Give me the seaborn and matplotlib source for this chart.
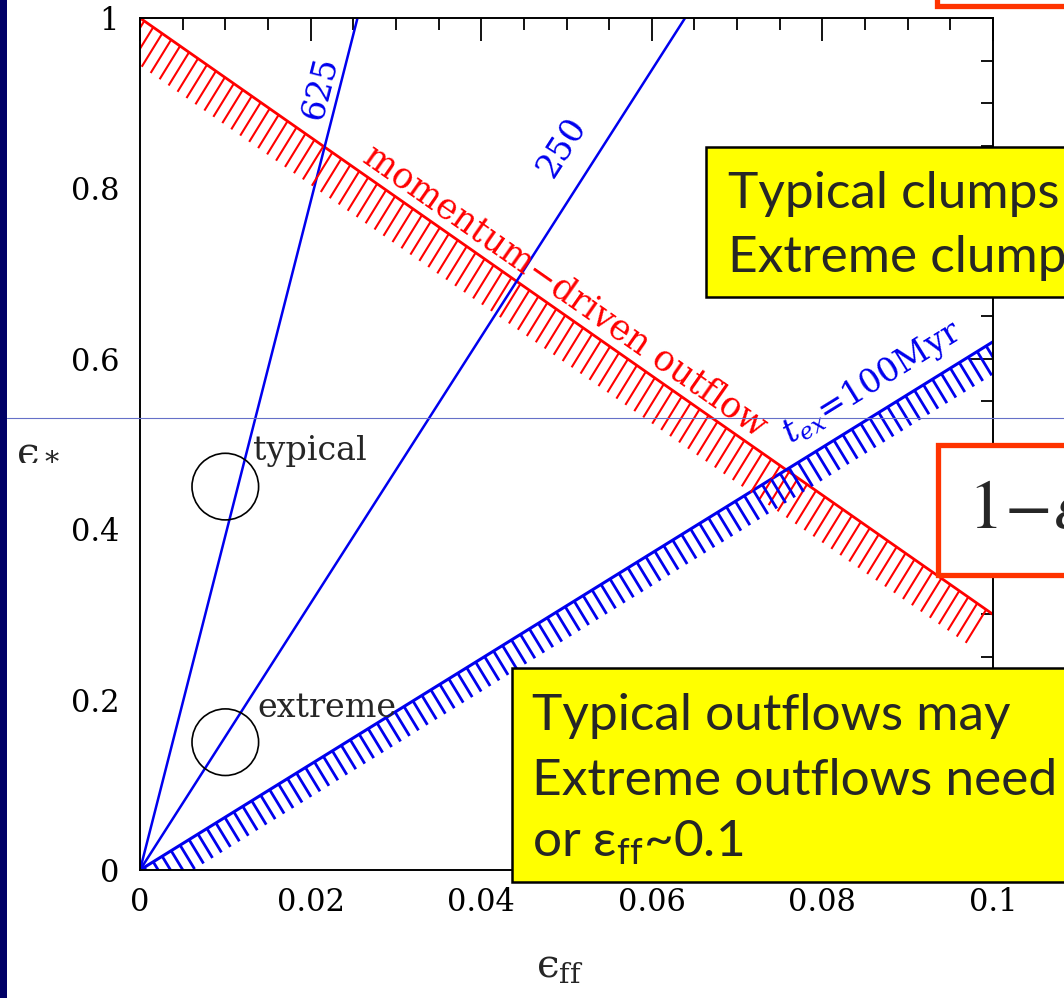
import numpy as np
import pandas as pd
import matplotlib
matplotlib.use("Agg")
import matplotlib.pyplot as plt
import seaborn as sns
from matplotlib.collections import LineCollection
from matplotlib.patches import Rectangle
from matplotlib.lines import Line2D
from matplotlib.ticker import MultipleLocator

# ---------------- data ----------------
x_ticks = [0, 0.02, 0.04, 0.06, 0.08, 0.1]
x_tick_labels = ["0", "0.02", "0.04", "0.06", "0.08", "0.1"]
y_ticks = [0, 0.2, 0.4, 0.6, 0.8, 1.0]
y_tick_labels = ["0", "0.2", "0.4", "0.6", "0.8", "1"]

momentum_x = [0.0, 0.1]
momentum_y = [1.0, 0.3]
tex_x = [0.0, 0.1]
tex_y = [0.0, 0.62]
ratio_labels = ["625", "250"]
ratio_x_at_top = [0.0255, 0.0639]   # eps_ff where eps_* reaches 1
clump_names = ["typical", "extreme"]
clump_eff = [0.01, 0.01]
clump_estar = [0.45, 0.15]

# ---------------- figure ----------------
W, H = 1064, 998
sns.set_theme(style="white")
plt.rcParams["font.family"] = ["DejaVu Serif", "DejaVu Sans"]
plt.rcParams["axes.linewidth"] = 1.4
plt.rcParams["axes.edgecolor"] = "black"

fig = plt.figure(figsize=(W / 100, H / 100), dpi=100)
fig.patch.set_facecolor("white")


def fx(px):
    return px / W


def fy(py):
    return 1 - py / H


ax = fig.add_axes([fx(140), fy(870), fx(993) - fx(140), fy(18) - fy(870)])
ax.set_xlim(0, 0.1)
ax.set_ylim(0, 1)

RED = "#ff0000"
BLUE = "#0000ee"

# main lines
df_m = pd.DataFrame({"x": momentum_x, "y": momentum_y})
df_t = pd.DataFrame({"x": tex_x, "y": tex_y})
sns.lineplot(data=df_m, x="x", y="y", color=RED, lw=2.0, ax=ax)
sns.lineplot(data=df_t, x="x", y="y", color=BLUE, lw=2.2, ax=ax)
for xt in ratio_x_at_top:
    df_r = pd.DataFrame({"x": [0.0, xt], "y": [0.0, 1.0]})
    sns.lineplot(data=df_r, x="x", y="y", color=BLUE, lw=1.8, ax=ax)

# hatching along the bands
step = 0.00105
xs = np.arange(0.0005, 0.1, step)
ym = np.interp(xs, momentum_x, momentum_y)
segs_r = [[(x, y), (x - 0.0024, y - 0.039)] for x, y in zip(xs, ym)]
ax.add_collection(LineCollection(segs_r, colors=RED, lw=1.5))
xs2 = np.arange(0.0005, 0.1, step)
yt = np.interp(xs2, tex_x, tex_y)
segs_b = [[(x, y), (x + 0.0017, y - 0.028)] for x, y in zip(xs2, yt)]
ax.add_collection(LineCollection(segs_b, colors=BLUE, lw=2.0))

# clumps
df_c = pd.DataFrame({"x": clump_eff, "y": clump_estar})
sns.scatterplot(data=df_c, x="x", y="y", s=2300, facecolor="none",
                edgecolor="black", linewidth=1.2, ax=ax, zorder=5)
ax.text(0.0133, 0.492, clump_names[0], fontsize=24, va="center", ha="left",
        family="DejaVu Serif")
ax.text(0.0138, 0.19, clump_names[1], fontsize=24, va="center", ha="left",
        family="DejaVu Serif")


def screen_angle(x0, y0, x1, y1):
    p0 = ax.transData.transform((x0, y0))
    p1 = ax.transData.transform((x1, y1))
    return np.degrees(np.arctan2(p1[1] - p0[1], p1[0] - p0[0]))


ang_m = screen_angle(momentum_x[0], momentum_y[0], momentum_x[1], momentum_y[1])
ang_t = screen_angle(tex_x[0], tex_y[0], tex_x[1], tex_y[1])
ax.text(0.0498, 0.680, "momentum\u2212driven outflow", color=RED, fontsize=25,
        rotation=ang_m, rotation_mode="anchor", ha="center", va="center")
ax.text(0.0858, 0.572, r"$t_{ex}$=100Myr", color=BLUE, fontsize=24,
        rotation=ang_t, rotation_mode="anchor", ha="center", va="center",
        math_fontfamily="dejavuserif")
ratio_label_pos = [(0.0212, 0.918), (0.0495, 0.848)]
for lab, xt, (lx, ly) in zip(ratio_labels, ratio_x_at_top, ratio_label_pos):
    a = screen_angle(0, 0, xt, 1)
    ax.text(lx, ly, lab, color=BLUE, fontsize=24, rotation=a,
            rotation_mode="anchor", ha="center", va="center")

# axes styling
ax.set_xticks(x_ticks)
ax.set_xticklabels(x_tick_labels)
ax.set_yticks(y_ticks)
ax.set_yticklabels(y_tick_labels)
ax.xaxis.set_minor_locator(MultipleLocator(0.005))
ax.yaxis.set_minor_locator(MultipleLocator(0.05))
ax.tick_params(which="both", direction="in", top=True, right=True,
               colors="black", width=1.3, labelsize=22)
ax.tick_params(which="major", length=16.5)
ax.tick_params(which="minor", length=8.6)
ax.tick_params(axis="x", which="major", pad=12)
ax.tick_params(axis="y", which="major", pad=15)
for s in ax.spines.values():
    s.set_visible(True)
    s.set_linewidth(1.4)
    s.set_color("black")

ax.set_xlabel("$\\mathrm{\u03f5}_{\\mathrm{ff}}$", fontsize=29,
              math_fontfamily="dejavuserif")
ax.set_ylabel("$\\mathrm{\u03f5}_*$", fontsize=29, rotation=0,
              math_fontfamily="dejavuserif")
ax.xaxis.set_label_coords(0.492, -0.092)
ax.yaxis.set_label_coords(-0.12, 0.472)

# ---------------- slide decorations ----------------
fig.patches.append(Rectangle((0, 0), fx(7), 1, transform=fig.transFigure,
                             facecolor="#000066", edgecolor="none", zorder=2))
fig.add_artist(Line2D([fx(7), 1], [fy(418), fy(418)], transform=fig.transFigure,
                      color="#6670c8", lw=0.8, zorder=2))

# yellow box 1
fig.patches.append(Rectangle((fx(706), fy(297)), fx(1200) - fx(706), fy(147) - fy(297),
                             transform=fig.transFigure, facecolor="#ffff00",
                             edgecolor="black", lw=1.8, zorder=3))
box_font = ["Lato", "DejaVu Sans"]
fig.text(fx(728), fy(208), "Typical clumps", fontsize=37, family=box_font,
         va="baseline", ha="left", zorder=4)
fig.text(fx(728), fy(272), "Extreme clumps", fontsize=37, family=box_font,
         va="baseline", ha="left", zorder=4)

# yellow box 2
fig.patches.append(Rectangle((fx(512), fy(882)), fx(1200) - fx(512), fy(668) - fy(882),
                             transform=fig.transFigure, facecolor="#ffff00",
                             edgecolor="black", lw=1.8, zorder=3))
fig.text(fx(532), fy(730), "Typical outflows may", fontsize=37, family=box_font,
         va="baseline", ha="left", zorder=4)
fig.text(fx(532), fy(795), "Extreme outflows need", fontsize=37, family=box_font,
         va="baseline", ha="left", zorder=4)
fig.text(fx(532), fy(857), "or \u03b5$_{\\mathregular{ff}}$~0.1", fontsize=37,
         family=box_font, va="baseline", ha="left", zorder=4)

# red-bordered boxes
fig.patches.append(Rectangle((fx(938), fy(575)), fx(1200) - fx(938), fy(445) - fy(575),
                             transform=fig.transFigure, facecolor="white",
                             edgecolor="#ff3300", lw=3.8, zorder=3))
fig.text(fx(968), fy(528), r"$1\!-\!\varepsilon$", fontsize=50,
         math_fontfamily="stix", va="baseline", ha="left", zorder=4)
fig.patches.append(Rectangle((fx(937), fy(5.5)), fx(1200) - fx(937), fy(-80) - fy(5.5),
                             transform=fig.transFigure, facecolor="white",
                             edgecolor="#ff3300", lw=3.8, zorder=3))

fig.savefig("out.png", dpi=100)
